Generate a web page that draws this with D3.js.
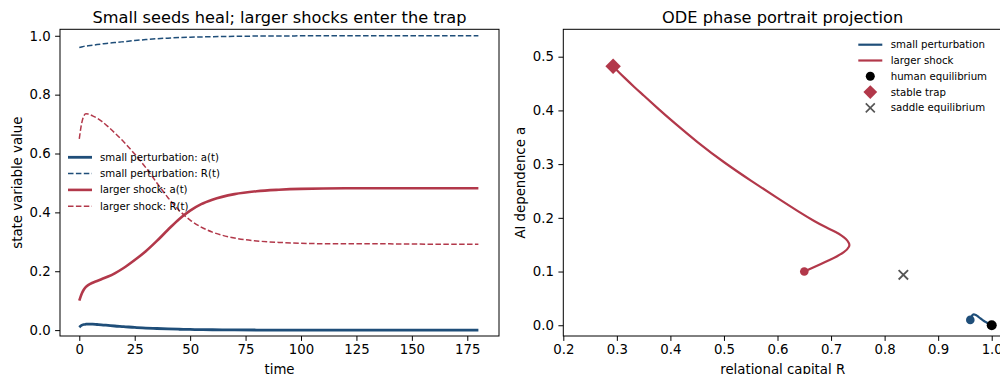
<!DOCTYPE html>
<html>
<head>
<meta charset="utf-8">
<script src="https://cdn.jsdelivr.net/npm/d3@7"></script>
<style>
  body { margin: 0; background: #fff; }
  svg { display: block; font-family: "DejaVu Sans", sans-serif; }
</style>
</head>
<body>
<svg id="chart" width="1000" height="374"></svg>
<script>
// time samples shared by both panels
const time = [0, 1, 2, 3, 4, 6, 8, 10, 13, 16, 20, 25, 30, 35, 40, 45, 50, 55, 60, 70, 80, 90, 100, 120, 140, 160, 180];

// small perturbation
const smallA = [0.010, 0.016, 0.019, 0.020, 0.0205, 0.020, 0.019, 0.018, 0.016, 0.014, 0.012, 0.009, 0.007, 0.0055, 0.004, 0.003, 0.0022, 0.0016, 0.0012, 0.0006, 0.0003, 0.0002, 0.0001, 0, 0, 0, 0];
const smallR = [0.960, 0.962, 0.964, 0.965, 0.966, 0.968, 0.970, 0.972, 0.975, 0.977, 0.980, 0.984, 0.987, 0.990, 0.992, 0.994, 0.995, 0.996, 0.997, 0.998, 0.999, 0.9995, 0.9997, 1.0, 1.0, 1.0, 1.0];

// larger shock
const largeA = [0.100, 0.122, 0.137, 0.147, 0.153, 0.161, 0.167, 0.173, 0.182, 0.193, 0.211, 0.238, 0.268, 0.303, 0.341, 0.377, 0.406, 0.428, 0.443, 0.462, 0.472, 0.477, 0.480, 0.482, 0.482, 0.482, 0.482];
const largeR = [0.650, 0.700, 0.727, 0.735, 0.734, 0.728, 0.720, 0.710, 0.691, 0.670, 0.640, 0.598, 0.552, 0.500, 0.450, 0.407, 0.374, 0.350, 0.333, 0.313, 0.303, 0.298, 0.295, 0.293, 0.293, 0.292, 0.292];

// equilibria (R, a)
const humanEq = [1.0, 0.0];
const trapEq = [0.293, 0.482];
const saddleEq = [0.835, 0.094];

// ticks
const timeTicks = [0, 25, 50, 75, 100, 125, 150, 175];
const stateTicks = [0.0, 0.2, 0.4, 0.6, 0.8, 1.0];
const capitalTicks = [0.2, 0.3, 0.4, 0.5, 0.6, 0.7, 0.8, 0.9, 1.0];
const dependenceTicks = [0.0, 0.1, 0.2, 0.3, 0.4, 0.5];

const blue = '#1f4e79';
const red = '#b2384a';
const saddleGrey = '#555555';

const svg = d3.select('#chart');

function drawAxes(g, x, y, xTicks, yTicks, xFmt, yFmt) {
  g.append('g')
    .attr('transform', `translate(0,${y.range()[0]})`)
    .call(d3.axisBottom(x).tickValues(xTicks).tickFormat(xFmt).tickSize(4.9).tickPadding(4).tickSizeOuter(0))
    .call(a => a.select('.domain').remove())
    .call(a => a.selectAll('text').attr('font-size', 13.3).attr('fill', '#000').attr('font-family', 'DejaVu Sans'));
  g.append('g')
    .attr('transform', `translate(${x.range()[0]},0)`)
    .call(d3.axisLeft(y).tickValues(yTicks).tickFormat(yFmt).tickSize(4.9).tickPadding(4.5).tickSizeOuter(0))
    .call(a => a.select('.domain').remove())
    .call(a => a.selectAll('text').attr('font-size', 13.3).attr('fill', '#000').attr('font-family', 'DejaVu Sans'));
  const [x0, x1] = x.range();
  const [y0, y1] = y.range();
  g.append('rect')
    .attr('x', x0).attr('y', y1)
    .attr('width', x1 - x0).attr('height', y0 - y1)
    .attr('fill', 'none').attr('stroke', '#000').attr('stroke-width', 1);
}

// ---------- left panel: time series ----------
const xT = d3.scaleLinear().domain([-8.7, 189.3]).range([60, 499]);
const yS = d3.scaleLinear().domain([-0.02, 1.022]).range([336, 29.3]);

const left = svg.append('g');
left.append('defs').append('clipPath').attr('id', 'clipL')
  .append('rect').attr('x', 60).attr('y', 29.3).attr('width', 439).attr('height', 306.7);

const seriesLeft = [
  { label: 'small perturbation: a(t)', values: smallA, color: blue, dash: null, width: 2.8 },
  { label: 'small perturbation: R(t)', values: smallR, color: blue, dash: '5.5,2.4', width: 1.5 },
  { label: 'larger shock: a(t)', values: largeA, color: red, dash: null, width: 2.6 },
  { label: 'larger shock: R(t)', values: largeR, color: red, dash: '5.5,2.4', width: 1.5 }
];

const lineT = d3.line().x(d => xT(d[0])).y(d => yS(d[1])).curve(d3.curveMonotoneX);
const plotL = left.append('g').attr('clip-path', 'url(#clipL)');
seriesLeft.forEach(s => {
  plotL.append('path')
    .datum(time.map((t, i) => [t, s.values[i]]))
    .attr('d', lineT)
    .attr('fill', 'none')
    .attr('stroke', s.color)
    .attr('stroke-width', s.width)
    .attr('stroke-dasharray', s.dash);
});

drawAxes(left, xT, yS, timeTicks, stateTicks, d3.format('d'), d3.format('.1f'));

left.append('text').attr('x', 279.5).attr('y', 22.5).attr('text-anchor', 'middle')
  .attr('font-size', 16.2).text('Small seeds heal; larger shocks enter the trap');
left.append('text').attr('x', 279.5).attr('y', 373.5).attr('text-anchor', 'middle')
  .attr('font-size', 13.3).text('time');
left.append('text').attr('transform', 'translate(22,182.7) rotate(-90)').attr('text-anchor', 'middle')
  .attr('font-size', 13.3).text('state variable value');

// left legend (no frame)
const legL = left.append('g').attr('transform', 'translate(68,157.3)');
const legItemsL = legL.selectAll('g').data(seriesLeft).enter().append('g')
  .attr('transform', (_, i) => `translate(0,${i * 16.3})`);
legItemsL.append('line').attr('x1', 0).attr('x2', 24).attr('y1', 0).attr('y2', 0)
  .attr('stroke', d => d.color).attr('stroke-width', d => d.width).attr('stroke-dasharray', d => d.dash);
legItemsL.append('text').attr('x', 32).attr('y', 0).attr('dy', '0.35em')
  .attr('font-size', 10.2).text(d => d.label);

// ---------- right panel: phase portrait ----------
const xR = d3.scaleLinear().domain([0.2, 1.022]).range([563.3, 1003.5]);
const yA = d3.scaleLinear().domain([-0.02, 0.551]).range([336, 29.3]);

const right = svg.append('g');
const linePh = d3.line().x(d => xR(d[0])).y(d => yA(d[1])).curve(d3.curveBasis);

const trajectories = [
  { label: 'small perturbation', R: smallR, a: smallA, color: blue },
  { label: 'larger shock', R: largeR, a: largeA, color: red }
];

trajectories.forEach(tr => {
  right.append('path')
    .datum(time.map((_, i) => [tr.R[i], tr.a[i]]))
    .attr('d', linePh)
    .attr('fill', 'none')
    .attr('stroke', tr.color)
    .attr('stroke-width', 2.2);
  right.append('circle')
    .attr('cx', xR(tr.R[0])).attr('cy', yA(tr.a[0])).attr('r', 4.3)
    .attr('fill', tr.color);
});

right.append('circle').attr('cx', xR(humanEq[0])).attr('cy', yA(humanEq[1])).attr('r', 5)
  .attr('fill', '#000');
right.append('path').attr('d', d3.symbol(d3.symbolSquare, 120)())
  .attr('transform', `translate(${xR(trapEq[0])},${yA(trapEq[1])}) rotate(45)`)
  .attr('fill', red);
right.append('path').attr('d', d3.symbol(d3.symbolTimes, 60)())
  .attr('transform', `translate(${xR(saddleEq[0])},${yA(saddleEq[1])})`)
  .attr('fill', 'none').attr('stroke', saddleGrey).attr('stroke-width', 1.8);

drawAxes(right, xR, yA, capitalTicks, dependenceTicks, d3.format('.1f'), d3.format('.1f'));

right.append('text').attr('x', 782.7).attr('y', 22.5).attr('text-anchor', 'middle')
  .attr('font-size', 16.2).text('ODE phase portrait projection');
right.append('text').attr('x', 782.7).attr('y', 373.5).attr('text-anchor', 'middle')
  .attr('font-size', 13.3).text('relational capital R');
right.append('text').attr('transform', 'translate(525,182.7) rotate(-90)').attr('text-anchor', 'middle')
  .attr('font-size', 13.3).text('AI dependence a');

// right legend
const legendR = [
  { label: 'small perturbation', kind: 'line', color: blue },
  { label: 'larger shock', kind: 'line', color: red },
  { label: 'human equilibrium', kind: 'circle', color: '#000' },
  { label: 'stable trap', kind: 'diamond', color: red },
  { label: 'saddle equilibrium', kind: 'x', color: saddleGrey }
];
const legR = right.append('g').attr('transform', 'translate(858.3,44.7)');
const legItemsR = legR.selectAll('g').data(legendR).enter().append('g')
  .attr('transform', (_, i) => `translate(0,${i * 15.8})`);
legItemsR.each(function(d) {
  const g = d3.select(this);
  if (d.kind === 'line') {
    g.append('line').attr('x1', 0).attr('x2', 24).attr('stroke', d.color).attr('stroke-width', 2.2);
  } else if (d.kind === 'circle') {
    g.append('circle').attr('cx', 12).attr('r', 4.5).attr('fill', d.color);
  } else if (d.kind === 'diamond') {
    g.append('path').attr('d', d3.symbol(d3.symbolSquare, 95)())
      .attr('transform', 'translate(12,0) rotate(45)').attr('fill', d.color);
  } else {
    g.append('path').attr('d', d3.symbol(d3.symbolTimes, 55)())
      .attr('transform', 'translate(12,0)')
      .attr('fill', 'none').attr('stroke', d.color).attr('stroke-width', 1.6);
  }
  g.append('text').attr('x', 32.4).attr('dy', '0.35em').attr('font-size', 10.2).text(d.label);
});
</script>
</body>
</html>
